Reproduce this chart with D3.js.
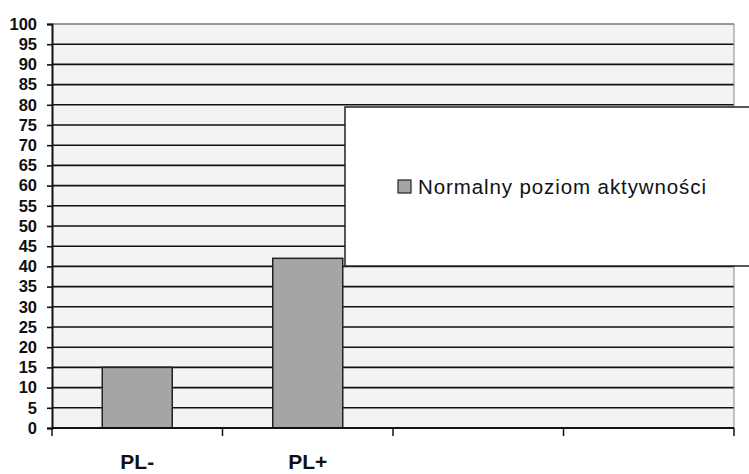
<!DOCTYPE html>
<html>
<head>
<meta charset="utf-8">
<script src="https://cdn.jsdelivr.net/npm/d3@7.9.0/dist/d3.min.js"></script>
<style>
  body { margin: 0; background: #fff; }
  svg { display: block; font-family: Arial, "Liberation Sans", sans-serif; }
</style>
</head>
<body>
<svg width="749" height="474"></svg>
<script>
const categories = ['PL-', 'PL+', '', ''];
const values = [15, 42, null, null];
const seriesName = 'Normalny poziom aktywności';
const yTicks = d3.range(0, 101, 5);

const svg = d3.select('svg');
const plotLeft = 52, plotRight = 734, plotTop = 24, plotBottom = 428;

let x = d3.scaleBand().domain(d3.range(categories.length)).range([plotLeft, plotRight]).paddingInner(0).paddingOuter(0);
let y = d3.scaleLinear().domain([0, 100]).range([plotBottom, plotTop]);

// plot background
svg.append('rect')
  .attr('x', plotLeft).attr('y', plotTop)
  .attr('width', plotRight - plotLeft).attr('height', plotBottom - plotTop)
  .attr('fill', '#f3f3f3');

// gridlines
svg.append('g')
  .selectAll('line')
  .data(yTicks.filter(d => d > 0 && d < 100))
  .enter()
  .append('line')
  .attr('x1', plotLeft).attr('x2', plotRight)
  .attr('y1', d => y(d)).attr('y2', d => y(d))
  .attr('stroke', '#111').attr('stroke-width', 1.6);

// top and right border
svg.append('line')
  .attr('x1', plotLeft).attr('x2', plotRight).attr('y1', y(100)).attr('y2', y(100))
  .attr('stroke', '#777').attr('stroke-width', 1.6);
svg.append('line')
  .attr('x1', plotRight).attr('x2', plotRight).attr('y1', plotTop).attr('y2', plotBottom)
  .attr('stroke', '#888').attr('stroke-width', 1);

// bars
let barW = 70;
svg.append('g')
  .selectAll('rect')
  .data(values.map((v, i) => ({ v, i })).filter(d => d.v != null))
  .enter()
  .append('rect')
  .attr('x', d => x(d.i) + x.bandwidth() / 2 - barW / 2)
  .attr('y', d => y(d.v))
  .attr('width', barW)
  .attr('height', d => y(0) - y(d.v))
  .attr('fill', '#a5a5a5')
  .attr('stroke', '#222').attr('stroke-width', 1.5);

// y axis
let yAxis = d3.axisLeft(y).tickValues(yTicks).tickSize(5).tickPadding(10);
let gy = svg.append('g').attr('transform', `translate(${plotLeft},0)`).call(yAxis);
gy.select('.domain').attr('stroke', '#111').attr('stroke-width', 2);
gy.selectAll('.tick line').attr('stroke', '#111').attr('stroke-width', 1.6);
gy.selectAll('.tick text')
  .attr('font-size', 16.5).attr('font-weight', 'bold').attr('fill', '#111')
  .attr('font-family', 'Arial, "Liberation Sans", sans-serif');

// x axis
let xEdges = d3.range(categories.length + 1).map(i => plotLeft + i * x.bandwidth());
svg.append('line')
  .attr('x1', plotLeft).attr('x2', plotRight).attr('y1', plotBottom).attr('y2', plotBottom)
  .attr('stroke', '#111').attr('stroke-width', 2);
svg.append('g')
  .selectAll('line')
  .data(xEdges)
  .enter()
  .append('line')
  .attr('x1', d => d).attr('x2', d => d)
  .attr('y1', plotBottom).attr('y2', plotBottom + 8)
  .attr('stroke', '#111').attr('stroke-width', 1.5);
svg.append('g')
  .selectAll('text')
  .data(categories)
  .enter()
  .append('text')
  .attr('x', (d, i) => x(i) + x.bandwidth() / 2)
  .attr('y', 469)
  .attr('text-anchor', 'middle')
  .attr('font-size', 21).attr('font-weight', 'bold').attr('fill', '#111')
  .text(d => d);

// legend
let lg = svg.append('g');
lg.append('rect')
  .attr('x', 345).attr('y', 107).attr('width', 410).attr('height', 159)
  .attr('fill', '#fff').attr('stroke', '#222').attr('stroke-width', 1.5);
lg.append('rect')
  .attr('x', 398).attr('y', 180).attr('width', 13).attr('height', 13)
  .attr('fill', '#a5a5a5').attr('stroke', '#222').attr('stroke-width', 1.2);
lg.append('text')
  .attr('x', 418).attr('y', 194)
  .attr('font-size', 20.5).attr('letter-spacing', 0.9).attr('fill', '#111')
  .text(seriesName);
</script>
</body>
</html>
